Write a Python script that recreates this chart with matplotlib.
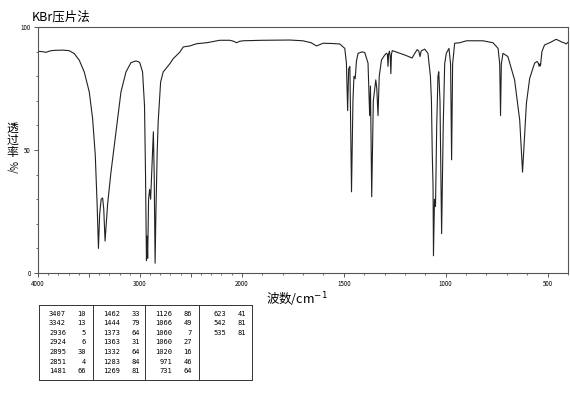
import matplotlib
matplotlib.use("Agg")
import matplotlib.pyplot as plt
import numpy as np
from matplotlib.ticker import FixedLocator, FixedFormatter, MultipleLocator

plt.rcParams['font.family'] = ['Noto Sans CJK SC', 'DejaVu Sans']

# spectrum: wavenumber (cm-1) and transmittance (%)
wavenumber = [
    4000, 3960, 3922, 3880, 3843, 3760, 3696, 3644, 3595, 3546, 3497, 3464,
    3438, 3420, 3407, 3395, 3380, 3366, 3355, 3342, 3330, 3317, 3284, 3235,
    3186, 3137, 3088, 3039, 3010, 3000, 2974, 2955, 2945, 2936, 2930, 2924,
    2915, 2905, 2895, 2880, 2868, 2860, 2851, 2843, 2830, 2821, 2797, 2772,
    2706, 2674, 2608, 2575, 2510, 2444, 2346, 2216, 2118, 2080, 2052, 2020,
    1994, 1900, 1765, 1701, 1660, 1634, 1601, 1560, 1520, 1495, 1487, 1481,
    1476, 1470, 1462, 1455, 1450, 1444, 1438, 1430, 1410, 1397, 1381, 1375,
    1373, 1369, 1363, 1355, 1343, 1338, 1332, 1326, 1315, 1300, 1291, 1286,
    1283, 1280, 1276, 1272, 1269, 1266, 1262, 1200, 1165, 1150, 1140, 1132,
    1126, 1120, 1103, 1087, 1075, 1070, 1066, 1062, 1060, 1055, 1050, 1044,
    1038, 1034, 1028, 1020, 1012, 1005, 997, 984, 976, 971, 966, 956,
    931, 898, 817, 768, 743, 735, 731, 727, 719, 695, 662, 637,
    623, 604, 588, 564, 552, 545, 542, 538, 535, 528, 515, 485,
    458, 440, 434, 420, 409, 400,
]
transmittance = [
    90.1, 90.0, 89.7, 90.3, 90.5, 90.6, 90.4, 89.2, 86.5, 81.7, 73.6, 62.7,
    47.8, 28.0, 10.0, 24.0, 30.0, 30.5, 26.0, 13.0, 20.0, 28.0, 41.0, 57.3,
    73.6, 81.7, 85.5, 86.2, 85.8, 85.3, 81.7, 68.0, 40.0, 5.0, 15.0, 6.0,
    30.0, 34.0, 30.0, 45.0, 57.4, 40.0, 4.0, 25.0, 50.0, 61.4, 77.6, 81.7,
    85.1, 87.1, 89.8, 91.9, 92.3, 93.2, 93.6, 94.6, 94.6, 94.2, 93.6, 94.2,
    94.4, 94.6, 94.7, 94.4, 93.6, 92.3, 93.4, 93.3, 93.1, 91.3, 85.3, 66.0,
    83.0, 84.0, 33.0, 70.0, 80.0, 79.0, 86.0, 89.3, 89.9, 89.6, 85.3, 70.0,
    64.0, 76.0, 31.0, 70.0, 78.5, 75.0, 64.0, 80.0, 86.6, 88.5, 89.3, 89.0,
    84.0, 89.0, 90.2, 88.0, 81.0, 89.0, 90.4, 88.6, 87.4, 89.5, 90.8, 90.2,
    88.0, 90.3, 91.0, 89.3, 80.0, 70.3, 49.0, 35.0, 7.0, 30.0, 27.0, 60.0,
    80.0, 81.8, 70.0, 16.0, 60.0, 85.0, 89.3, 91.3, 85.0, 46.0, 85.0, 93.4,
    93.6, 94.4, 94.4, 93.6, 91.3, 85.0, 64.0, 85.0, 89.3, 88.0, 78.5, 62.2,
    41.0, 69.0, 79.1, 85.3, 86.0, 85.2, 84.0, 85.0, 84.2, 90.0, 92.7, 93.8,
    95.0, 94.3, 94.0, 93.6, 93.1, 93.8,
]

# peak table
table_wn = ['3407', '3342', '2936', '2924', '2895', '2851', '1481',
            '1462', '1444', '1373', '1363', '1332', '1283', '1269',
            '1126', '1066', '1060', '1060', '1020', '971', '731',
            '623', '542', '535']
table_t = ['10', '13', '5', '6', '30', '4', '66',
           '33', '79', '64', '31', '64', '84', '81',
           '86', '49', '7', '27', '16', '46', '64',
           '41', '81', '81']

x_ticks = [4000, 3500, 3000, 2500, 2000, 1500, 1000, 500]
x_labels = ['4000', '', '3000', '', '2000', '1500', '1000', '500']


def fwd(w):
    w = np.asarray(w, dtype=float)
    return np.where(w > 2000, 2000 + (w - 2000) / 2, w)


def inv(t):
    t = np.asarray(t, dtype=float)
    return np.where(t > 2000, 2000 + (t - 2000) * 2, t)


W, H = 570, 394
fig = plt.figure(figsize=(W / 100, H / 100), dpi=100)
ax = fig.add_axes([38 / W, (H - 273) / H, 530 / W, 246 / H])

ax.plot(wavenumber, transmittance, color='#222222', lw=0.8)
ax.set_xscale('function', functions=(fwd, inv))
ax.set_xlim(4000, 400)
ax.set_ylim(0, 100)

ax.xaxis.set_major_locator(FixedLocator(x_ticks))
ax.xaxis.set_major_formatter(FixedFormatter(x_labels))
ax.xaxis.set_minor_locator(MultipleLocator(100))
ax.yaxis.set_major_locator(FixedLocator([0, 50, 100]))
ax.yaxis.set_minor_locator(MultipleLocator(10))
ax.tick_params(which='major', length=3, width=0.7, labelsize=4.5, color='#555555', pad=2)
ax.tick_params(which='minor', length=1.5, width=0.6, color='#555555')
for s in ax.spines.values():
    s.set_color('#555555')
    s.set_linewidth(0.8)

fig.text(32 / W, 1 - 17 / H, 'KBr压片法', fontsize=9, va='center', ha='left')
fig.text(297 / W, 1 - 300 / H, '波数/cm$^{-1}$', fontsize=9, va='center', ha='center')
# stacked vertical y label
for k, ch in enumerate('透过率'):
    fig.text(12 / W, 1 - (128 + 12 * k) / H, ch, fontsize=8.5, va='center', ha='center')
fig.text(12 / W, 1 - 167 / H, '%/', fontsize=7, va='center', ha='center', rotation=-90)

# peak table below the chart
tax = fig.add_axes([39 / W, (H - 380) / H, 213 / W, 75 / H])
tax.set_xlim(0, 213)
tax.set_ylim(6.88, -0.88)
tax.set_xticks([])
tax.set_yticks([])
for s in tax.spines.values():
    s.set_color('#333333')
    s.set_linewidth(0.7)
col_left = [0, 54, 106, 160]
for c in col_left[1:]:
    tax.axvline(c, color='#333333', lw=0.7)
for i, (wn, t) in enumerate(zip(table_wn, table_t)):
    col, row = divmod(i, 7)
    x0 = col_left[col]
    tax.text(x0 + 27, row, wn, fontsize=5, family='DejaVu Sans Mono', ha='right', va='center')
    tax.text(x0 + 47, row, t, fontsize=5, family='DejaVu Sans Mono', ha='right', va='center')

fig.savefig('out.png', dpi=100)
